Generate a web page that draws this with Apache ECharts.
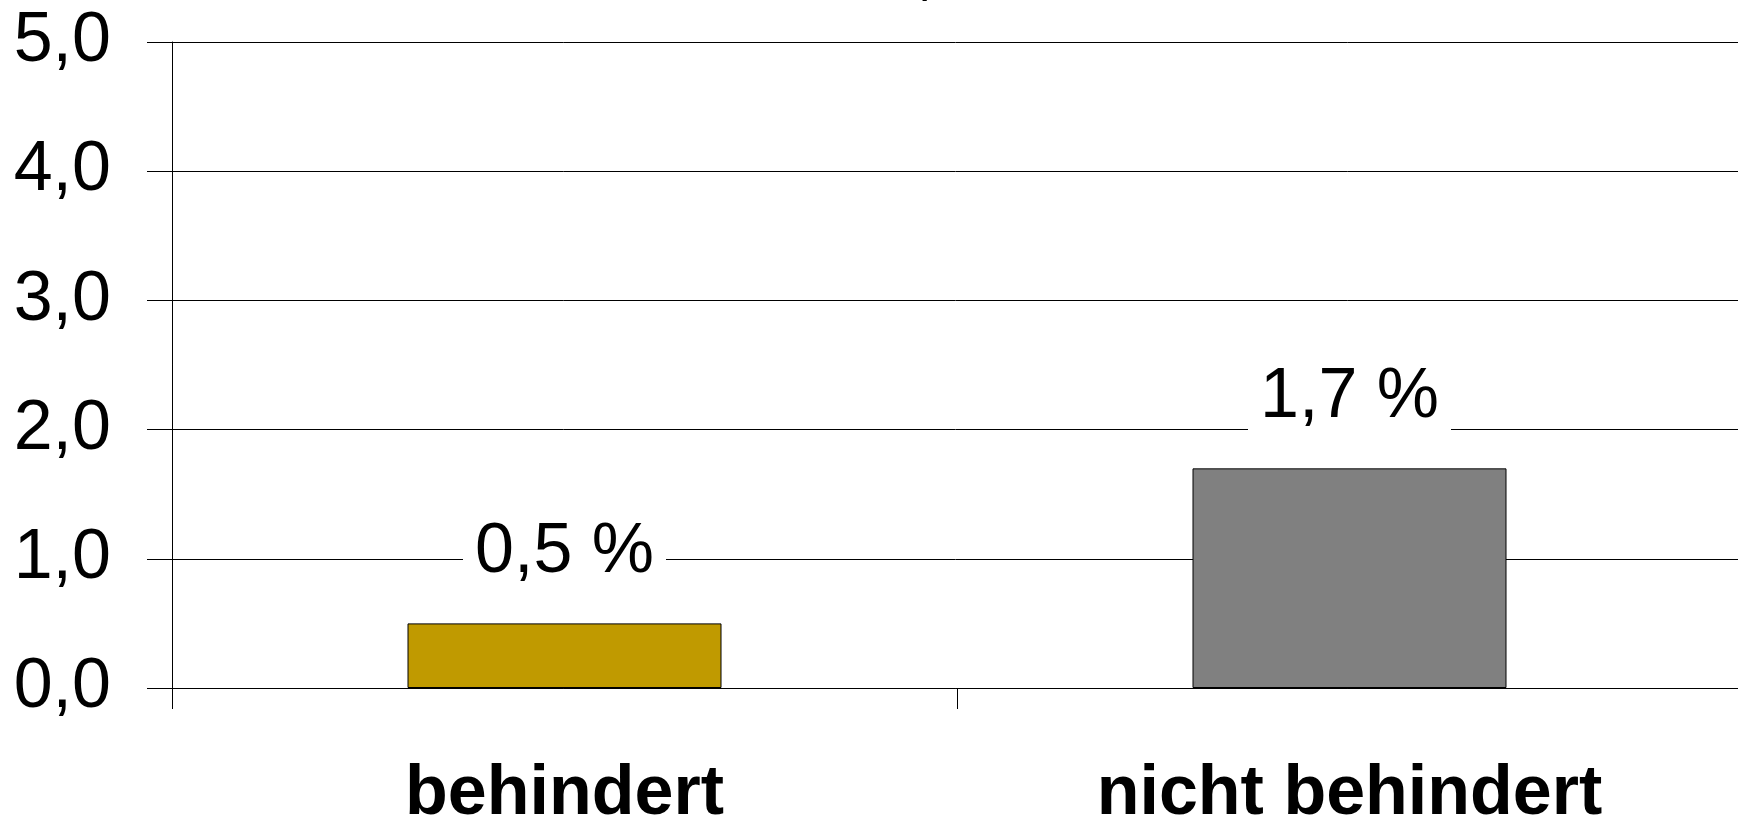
<!DOCTYPE html>
<html>
<head>
<meta charset="utf-8">
<title>behindert / nicht behindert</title>
<script src="https://cdn.jsdelivr.net/npm/echarts@6/dist/echarts.min.js"></script>
<style>
  html, body { margin: 0; padding: 0; background: #fff; }
  #chart { width: 1738px; height: 821px; }
</style>
</head>
<body>
<div id="chart"></div>
<script>
// data
const categories = ['behindert', 'nicht behindert']
const values = [0.5, 1.7]
const barColors = ['#c09a00', '#808080']
const yTicks = [0, 1, 2, 3, 4, 5]

const fmt = (v) => v.toFixed(1).replace('.', ',')
const font = 'Liberation Sans, Arial, sans-serif'

let chart = echarts.init(document.getElementById('chart'), null, { renderer: 'canvas' })
chart.setOption({
  animation: false,
  backgroundColor: '#fff',
  grid: { left: 172, right: -4, top: 42, bottom: 133, outerBoundsMode: 'none', containLabel: false },
  graphic: [{
    // tail of a title cut off above the picture
    type: 'text',
    left: 916,
    top: -62,
    style: { text: ',', font: '70px ' + font, fill: '#000' }
  }],
  xAxis: {
    type: 'category',
    data: categories,
    axisLine: { lineStyle: { color: '#000', width: 1 } },
    axisTick: { show: true, length: 21, lineStyle: { color: '#000' } },
    axisLabel: {
      margin: 72,
      color: '#000',
      fontSize: 70,
      fontWeight: 'bold',
      fontFamily: font
    }
  },
  yAxis: {
    type: 'value',
    min: yTicks[0],
    max: yTicks[yTicks.length - 1],
    interval: 1,
    axisLine: { show: true, lineStyle: { color: '#000', width: 1 } },
    axisTick: { show: true, length: 25, lineStyle: { color: '#000' } },
    splitLine: { show: true, lineStyle: { color: '#000', width: 1 } },
    axisLabel: {
      margin: 61,
      color: '#000',
      fontSize: 70,
      fontFamily: font,
      formatter: (v) => fmt(v)
    }
  },
  series: [{
    type: 'bar',
    barWidth: '40%',
    data: values.map((v, i) => ({
      value: v,
      itemStyle: { color: barColors[i], borderColor: '#000', borderWidth: 1 }
    })),
    label: {
      show: true,
      position: 'top',
      distance: 36,
      color: '#000',
      fontSize: 70,
      fontFamily: font,
      lineHeight: 70,
      backgroundColor: '#fff',
      padding: [0, 12],
      formatter: (p) => fmt(p.value) + ' %'
    }
  }]
})
</script>
</body>
</html>
